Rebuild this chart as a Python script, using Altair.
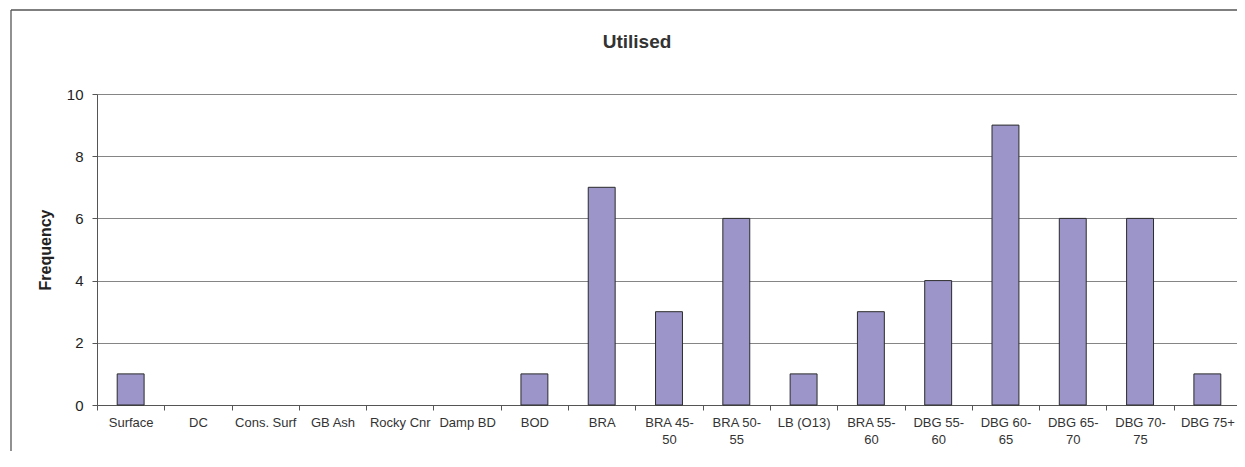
import altair as alt
import pandas as pd

categories = ["Surface", "DC", "Cons. Surf", "GB Ash", "Rocky Cnr", "Damp BD", "BOD",
              "BRA", "BRA 45-50", "BRA 50-55", "LB (O13)", "BRA 55-60", "DBG 55-60",
              "DBG 60-65", "DBG 65-70", "DBG 70-75", "DBG 75+"]
frequency = [1, 0, 0, 0, 0, 0, 1, 7, 3, 6, 1, 3, 4, 9, 6, 6, 1]
y_ticks = [0, 2, 4, 6, 8, 10]
chart_title = "Utilised"
y_title = "Frequency"

df = pd.DataFrame({"category": categories, "frequency": frequency})

FONT = "Liberation Sans, Arial, Helvetica, sans-serif"

label_expr = ("indexof(datum.label,'-') > 0 ? "
              "[slice(datum.label,0,indexof(datum.label,'-')+1), "
              "slice(datum.label,indexof(datum.label,'-')+1)] : datum.label")

bars = alt.Chart(df).transform_filter("datum.frequency > 0").mark_bar(
    width=alt.RelativeBandSize(0.4),
    color="#9B95C9",
    stroke="#2b2b2b",
    strokeWidth=1,
).encode(
    x=alt.X("category:N", sort=categories,
            scale=alt.Scale(domain=categories, paddingInner=0, paddingOuter=0,
                            range=[0, 1144]),
            axis=alt.Axis(title=None, labelAngle=0, tickBand="extent",
                          tickSize=5, labelPadding=6, labelFontSize=13,
                          labelLineHeight=17, labelColor="#333333",
                          labelFont=FONT, domainColor="#555555",
                          tickColor="#555555", grid=False,
                          labelExpr=label_expr)),
    y=alt.Y("frequency:Q",
            scale=alt.Scale(domain=[0, 10], nice=False),
            axis=alt.Axis(title=y_title, values=y_ticks, tickSize=5,
                          labelPadding=9, labelFontSize=15, labelColor="#222222",
                          labelFont=FONT, titleFont=FONT, titleFontSize=16,
                          titleFontWeight="bold", titleColor="#222222",
                          titlePadding=13, domainColor="#555555",
                          tickColor="#555555", grid=True,
                          gridColor="#858585", gridWidth=1)),
)

frame_data = pd.DataFrame({"a": [0]})
frame_left = alt.Chart(frame_data).mark_rule(color="#555555", strokeWidth=1.3).encode(
    x=alt.value(-86), y=alt.value(-84), y2=alt.value(420)
)
frame_top = alt.Chart(frame_data).mark_rule(color="#555555", strokeWidth=1.3).encode(
    x=alt.value(-86), x2=alt.value(1300), y=alt.value(-84)
)

title = alt.Chart(pd.DataFrame({"t": [chart_title]})).mark_text(
    font=FONT, fontSize=19, fontWeight="bold", color="#333333",
    align="center", baseline="alphabetic"
).encode(
    text="t:N", x=alt.value(540), y=alt.value(-46)
)

chart = alt.layer(frame_left, frame_top, bars, title).properties(
    width=1140, height=311,
    autosize=alt.AutoSizeParams(type="none"),
    padding={"left": 89, "top": 86, "right": 0, "bottom": 46},
).configure_view(stroke=None).configure(background="white")

chart.save("out.html", embed_options={"renderer": "svg", "actions": False})
